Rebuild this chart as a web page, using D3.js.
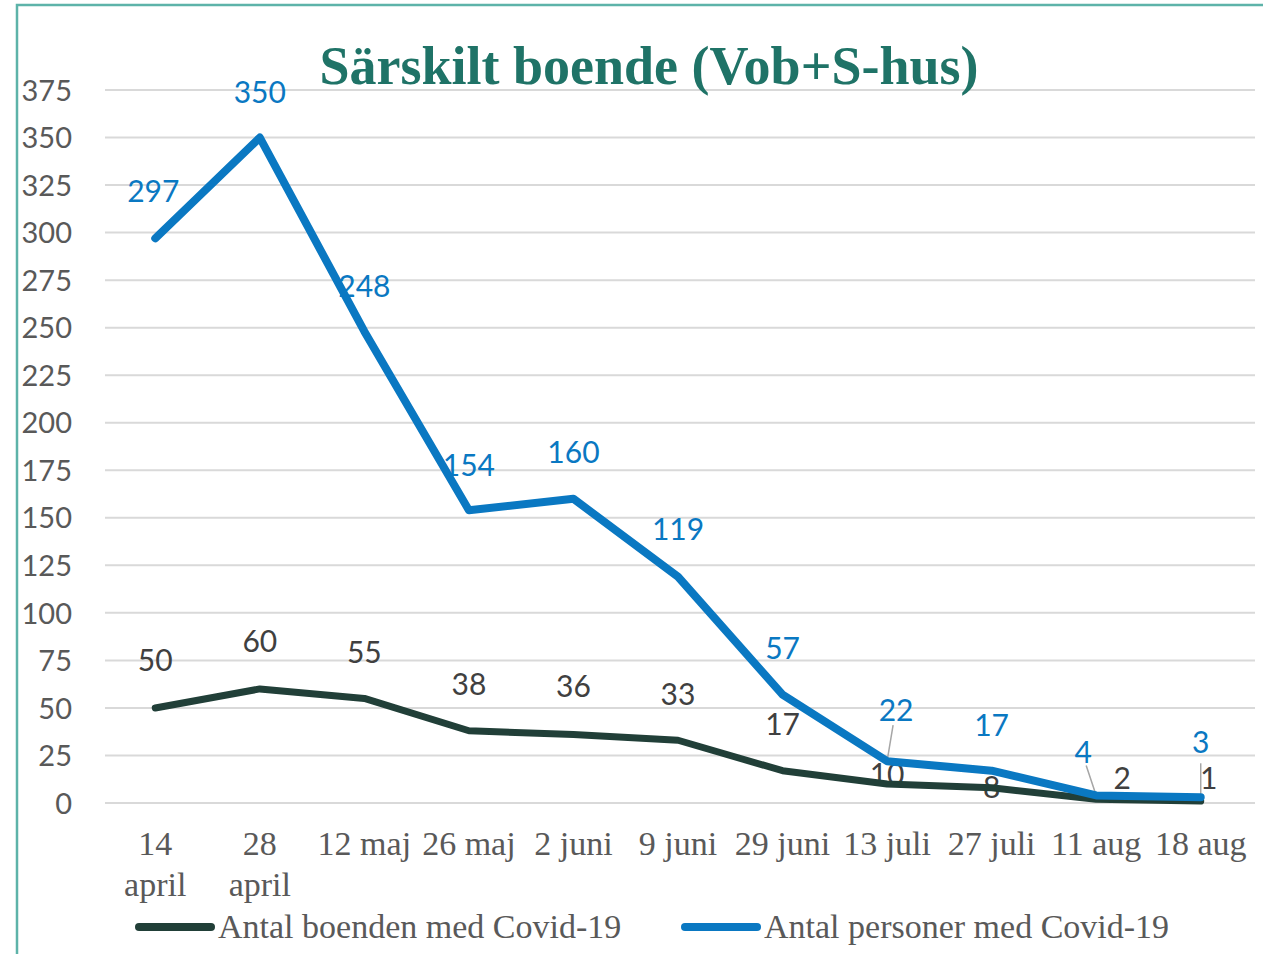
<!DOCTYPE html>
<html>
<head>
<meta charset="utf-8">
<script src="https://cdn.jsdelivr.net/npm/d3@7"></script>
<style>
  body { margin: 0; background: #fff; }
  .axis text { font-family: Lato, sans-serif; }
</style>
</head>
<body>
<div id="painting"></div>
<script>
// chart values
var categories = [["14", "april"], ["28", "april"], ["12 maj"], ["26 maj"], ["2 juni"], ["9 juni"],
                  ["29 juni"], ["13 juli"], ["27 juli"], ["11 aug"], ["18 aug"]];
var boenden = [50, 60, 55, 38, 36, 33, 17, 10, 8, 2, 1];
var personer = [297, 350, 248, 154, 160, 119, 57, 22, 17, 4, 3];
var yTicks = d3.range(0, 376, 25);
var seriesNames = ["Antal boenden med Covid-19", "Antal personer med Covid-19"];

var dark = "#213f38";
var blue = "#0a78c2";

var W = 1263, H = 954;
var svg = d3.select("#painting").append("svg")
  .attr("width", W).attr("height", H);

// teal frame
svg.append("rect")
  .attr("x", 17).attr("y", 5).attr("width", W).attr("height", H)
  .attr("fill", "none").attr("stroke", "#5db3a9").attr("stroke-width", 2.5);

var xScale = d3.scaleBand()
  .domain(d3.range(categories.length))
  .range([103, 1253]);

var yScale = d3.scaleLinear()
  .domain([0, 375])
  .range([803, 90]);

function cx(i){ return xScale(i) + xScale.bandwidth() / 2; }

// gridlines
svg.append("g").selectAll("line")
  .data(yTicks).enter().append("line")
  .attr("x1", 105).attr("x2", 1255)
  .attr("y1", function(d){ return yScale(d); })
  .attr("y2", function(d){ return yScale(d); })
  .attr("stroke", "#d9d9d9").attr("stroke-width", 2);

// y axis
var yAxis = d3.axisLeft(yScale).tickValues(yTicks).tickSize(0).tickPadding(0);
var gy = svg.append("g").attr("class", "axis")
  .attr("transform", "translate(72,0)")
  .call(yAxis);
gy.select(".domain").remove();
gy.selectAll("text")
  .attr("fill", "#595959")
  .style("font-size", "29px")
  .attr("dy", "0.35em");

// x axis labels
var xg = svg.append("g");
categories.forEach(function(c, i){
  var t = xg.append("text")
    .attr("x", cx(i))
    .attr("y", 855)
    .attr("text-anchor", "middle")
    .attr("fill", "#595959")
    .style("font-family", "'Liberation Serif', serif")
    .style("font-size", "34px");
  c.forEach(function(s, k){
    t.append("tspan")
      .attr("x", cx(i))
      .attr("dy", k == 0 ? 0 : 41)
      .text(s);
  });
});

// title
svg.append("text")
  .attr("x", 649).attr("y", 84)
  .attr("text-anchor", "middle")
  .attr("fill", "#1f7367")
  .style("font-family", "'Liberation Serif', serif")
  .style("font-weight", "bold")
  .style("font-size", "54px")
  .text("Särskilt boende (Vob+S-hus)");

// leader lines for crowded labels
var leaders = [[7, 22, 6, -36], [9, 4, -10, -30], [10, 3, 0, -34]];
svg.append("g").selectAll("line")
  .data(leaders).enter().append("line")
  .attr("x1", function(d){ return cx(d[0]); })
  .attr("y1", function(d){ return yScale(d[1]); })
  .attr("x2", function(d){ return cx(d[0]) + d[2]; })
  .attr("y2", function(d){ return yScale(d[1]) + d[3]; })
  .attr("stroke", "#a6a6a6").attr("stroke-width", 1.5);

// data labels (offsets per point, in px), drawn under the lines
var darkOff = [[0,-47],[0,-47],[0,-46],[0,-46],[0,-48],[0,-46],[0,-46],[0,-9],[0,0],[26,-21],[8,-23]];
var blueOff = [[-2,-47],[0,-45],[0,-45],[0,-45],[0,-46],[0,-47],[0,-46],[9,-51],[0,-45],[-13,-43],[0,-55]];

svg.append("g").selectAll("text")
  .data(boenden).enter().append("text")
  .attr("x", function(d, i){ return cx(i) + darkOff[i][0]; })
  .attr("y", function(d, i){ return yScale(d) + darkOff[i][1]; })
  .attr("text-anchor", "middle")
  .attr("dy", "0.35em")
  .attr("fill", "#404040")
  .style("font-family", "Lato, sans-serif")
  .style("font-size", "30px")
  .text(function(d){ return d; });

svg.append("g").selectAll("text")
  .data(personer).enter().append("text")
  .attr("x", function(d, i){ return cx(i) + blueOff[i][0]; })
  .attr("y", function(d, i){ return yScale(d) + blueOff[i][1]; })
  .attr("text-anchor", "middle")
  .attr("dy", "0.35em")
  .attr("fill", blue)
  .style("font-family", "Lato, sans-serif")
  .style("font-size", "30px")
  .text(function(d){ return d; });

var line = d3.line()
  .x(function(d, i){ return cx(i); })
  .y(function(d){ return yScale(d); });

svg.append("path").datum(boenden)
  .attr("d", line).attr("fill", "none")
  .attr("stroke", dark).attr("stroke-width", 7)
  .attr("stroke-linejoin", "round").attr("stroke-linecap", "round");

svg.append("path").datum(personer)
  .attr("d", line).attr("fill", "none")
  .attr("stroke", blue).attr("stroke-width", 8)
  .attr("stroke-linejoin", "round").attr("stroke-linecap", "round");

// legend
var legend = [[seriesNames[0], dark, 139], [seriesNames[1], blue, 685]];
var lg = svg.append("g").selectAll("g")
  .data(legend).enter().append("g");
lg.append("line")
  .attr("x1", function(d){ return d[2]; })
  .attr("x2", function(d){ return d[2] + 72; })
  .attr("y1", 927).attr("y2", 927)
  .attr("stroke", function(d){ return d[1]; })
  .attr("stroke-width", 8).attr("stroke-linecap", "round");
lg.append("text")
  .attr("x", function(d){ return d[2] + 79; })
  .attr("y", 938)
  .attr("fill", "#595959")
  .style("font-family", "'Liberation Serif', serif")
  .style("font-size", "34px")
  .text(function(d){ return d[0]; });
</script>
</body>
</html>
